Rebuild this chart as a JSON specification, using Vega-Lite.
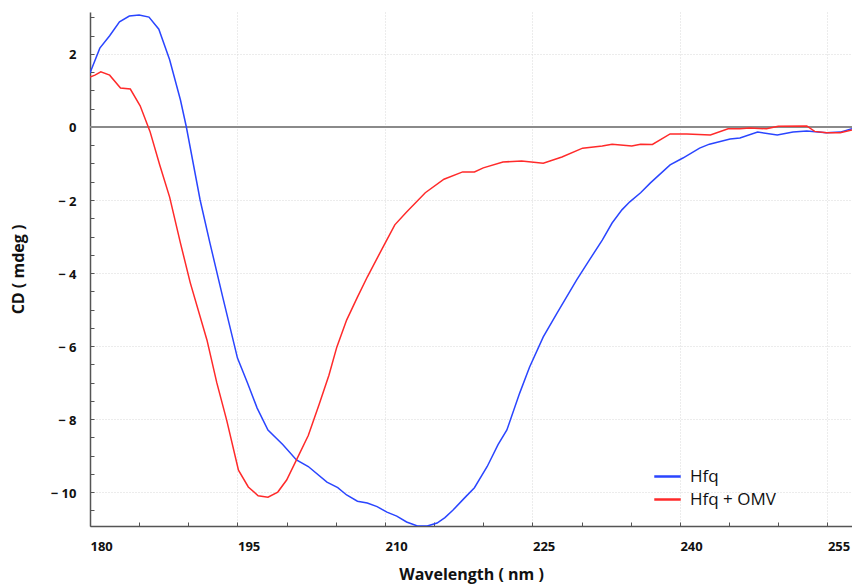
{
  "$schema": "https://vega.github.io/schema/vega-lite/v6.json",
  "width": 762,
  "height": 514,
  "autosize": {"type": "none"},
  "padding": {"left": 90, "top": 12, "right": 0, "bottom": 58},
  "background": "white",
  "config": {
    "view": {"stroke": null},
    "font": "Open Sans",
    "axis": {
      "labelFont": "Open Sans", "labelFontWeight": "bold", "labelFontSize": 13, "labelColor": "#111",
      "titleFont": "Open Sans", "titleFontWeight": "bold", "titleFontSize": 16, "titleColor": "#111",
      "domainColor": "#555", "domainWidth": 1.5, "tickColor": "#555", "tickWidth": 1,
      "gridColor": "#d8d8d8", "gridDash": [1, 2], "gridWidth": 1, "labelOverlap": false
    }
  },
  "data": {"values": [
    {"w":180,"cd":1.48,"s":"Hfq"},{"w":181,"cd":2.16,"s":"Hfq"},{"w":182,"cd":2.5,"s":"Hfq"},{"w":183,"cd":2.88,"s":"Hfq"},{"w":184,"cd":3.04,"s":"Hfq"},{"w":185,"cd":3.07,"s":"Hfq"},{"w":186,"cd":3.01,"s":"Hfq"},{"w":187,"cd":2.68,"s":"Hfq"},{"w":188.1,"cd":1.84,"s":"Hfq"},{"w":189.2,"cd":0.74,"s":"Hfq"},{"w":189.8,"cd":0.0,"s":"Hfq"},{"w":191.2,"cd":-2.0,"s":"Hfq"},{"w":192.2,"cd":-3.18,"s":"Hfq"},{"w":193.5,"cd":-4.66,"s":"Hfq"},{"w":195,"cd":-6.33,"s":"Hfq"},{"w":196,"cd":-7.0,"s":"Hfq"},{"w":197,"cd":-7.7,"s":"Hfq"},{"w":198.1,"cd":-8.3,"s":"Hfq"},{"w":199.6,"cd":-8.7,"s":"Hfq"},{"w":201,"cd":-9.12,"s":"Hfq"},{"w":202.2,"cd":-9.3,"s":"Hfq"},{"w":204.1,"cd":-9.73,"s":"Hfq"},{"w":205.2,"cd":-9.88,"s":"Hfq"},{"w":206.1,"cd":-10.08,"s":"Hfq"},{"w":207.2,"cd":-10.25,"s":"Hfq"},{"w":208.2,"cd":-10.3,"s":"Hfq"},{"w":209.2,"cd":-10.4,"s":"Hfq"},{"w":210.2,"cd":-10.55,"s":"Hfq"},{"w":211.2,"cd":-10.66,"s":"Hfq"},{"w":212.2,"cd":-10.82,"s":"Hfq"},{"w":213.3,"cd":-10.93,"s":"Hfq"},{"w":214.3,"cd":-10.93,"s":"Hfq"},{"w":215.3,"cd":-10.85,"s":"Hfq"},{"w":216.1,"cd":-10.7,"s":"Hfq"},{"w":216.9,"cd":-10.5,"s":"Hfq"},{"w":218.1,"cd":-10.16,"s":"Hfq"},{"w":219.1,"cd":-9.88,"s":"Hfq"},{"w":220.4,"cd":-9.3,"s":"Hfq"},{"w":221.5,"cd":-8.7,"s":"Hfq"},{"w":222.4,"cd":-8.3,"s":"Hfq"},{"w":223.7,"cd":-7.29,"s":"Hfq"},{"w":224.7,"cd":-6.58,"s":"Hfq"},{"w":226.1,"cd":-5.75,"s":"Hfq"},{"w":227.5,"cd":-5.1,"s":"Hfq"},{"w":229.5,"cd":-4.19,"s":"Hfq"},{"w":230.8,"cd":-3.64,"s":"Hfq"},{"w":232.1,"cd":-3.1,"s":"Hfq"},{"w":233.1,"cd":-2.63,"s":"Hfq"},{"w":234.1,"cd":-2.27,"s":"Hfq"},{"w":234.9,"cd":-2.05,"s":"Hfq"},{"w":236,"cd":-1.8,"s":"Hfq"},{"w":237,"cd":-1.53,"s":"Hfq"},{"w":239,"cd":-1.04,"s":"Hfq"},{"w":240.3,"cd":-0.85,"s":"Hfq"},{"w":242,"cd":-0.58,"s":"Hfq"},{"w":243,"cd":-0.47,"s":"Hfq"},{"w":245.1,"cd":-0.33,"s":"Hfq"},{"w":246.1,"cd":-0.3,"s":"Hfq"},{"w":247.9,"cd":-0.14,"s":"Hfq"},{"w":249.9,"cd":-0.22,"s":"Hfq"},{"w":251.5,"cd":-0.14,"s":"Hfq"},{"w":252.9,"cd":-0.11,"s":"Hfq"},{"w":254.9,"cd":-0.16,"s":"Hfq"},{"w":256.3,"cd":-0.14,"s":"Hfq"},{"w":257.5,"cd":-0.05,"s":"Hfq"},
    {"w":180,"cd":1.37,"s":"Hfq + OMV"},{"w":180.5,"cd":1.42,"s":"Hfq + OMV"},{"w":181.1,"cd":1.51,"s":"Hfq + OMV"},{"w":182,"cd":1.42,"s":"Hfq + OMV"},{"w":183.1,"cd":1.07,"s":"Hfq + OMV"},{"w":184.1,"cd":1.04,"s":"Hfq + OMV"},{"w":185.1,"cd":0.58,"s":"Hfq + OMV"},{"w":186.1,"cd":-0.12,"s":"Hfq + OMV"},{"w":187.1,"cd":-1.05,"s":"Hfq + OMV"},{"w":188.1,"cd":-1.92,"s":"Hfq + OMV"},{"w":189.2,"cd":-3.18,"s":"Hfq + OMV"},{"w":190.2,"cd":-4.27,"s":"Hfq + OMV"},{"w":191.9,"cd":-5.84,"s":"Hfq + OMV"},{"w":192.9,"cd":-7.01,"s":"Hfq + OMV"},{"w":193.9,"cd":-8.03,"s":"Hfq + OMV"},{"w":195.1,"cd":-9.4,"s":"Hfq + OMV"},{"w":196.1,"cd":-9.86,"s":"Hfq + OMV"},{"w":197.1,"cd":-10.1,"s":"Hfq + OMV"},{"w":198.1,"cd":-10.14,"s":"Hfq + OMV"},{"w":199.1,"cd":-10.0,"s":"Hfq + OMV"},{"w":200,"cd":-9.67,"s":"Hfq + OMV"},{"w":201,"cd":-9.12,"s":"Hfq + OMV"},{"w":202.2,"cd":-8.45,"s":"Hfq + OMV"},{"w":203.3,"cd":-7.6,"s":"Hfq + OMV"},{"w":204.3,"cd":-6.8,"s":"Hfq + OMV"},{"w":205.1,"cd":-6.03,"s":"Hfq + OMV"},{"w":206.1,"cd":-5.29,"s":"Hfq + OMV"},{"w":207.2,"cd":-4.66,"s":"Hfq + OMV"},{"w":208.2,"cd":-4.11,"s":"Hfq + OMV"},{"w":209.8,"cd":-3.29,"s":"Hfq + OMV"},{"w":211,"cd":-2.68,"s":"Hfq + OMV"},{"w":212.2,"cd":-2.33,"s":"Hfq + OMV"},{"w":214.1,"cd":-1.8,"s":"Hfq + OMV"},{"w":216,"cd":-1.43,"s":"Hfq + OMV"},{"w":217.9,"cd":-1.23,"s":"Hfq + OMV"},{"w":219.1,"cd":-1.23,"s":"Hfq + OMV"},{"w":220,"cd":-1.12,"s":"Hfq + OMV"},{"w":222,"cd":-0.96,"s":"Hfq + OMV"},{"w":223.9,"cd":-0.93,"s":"Hfq + OMV"},{"w":226.1,"cd":-0.99,"s":"Hfq + OMV"},{"w":228,"cd":-0.82,"s":"Hfq + OMV"},{"w":230.1,"cd":-0.58,"s":"Hfq + OMV"},{"w":232.1,"cd":-0.52,"s":"Hfq + OMV"},{"w":233.1,"cd":-0.47,"s":"Hfq + OMV"},{"w":235.1,"cd":-0.52,"s":"Hfq + OMV"},{"w":236,"cd":-0.47,"s":"Hfq + OMV"},{"w":237.2,"cd":-0.48,"s":"Hfq + OMV"},{"w":239,"cd":-0.19,"s":"Hfq + OMV"},{"w":240.7,"cd":-0.19,"s":"Hfq + OMV"},{"w":243.1,"cd":-0.22,"s":"Hfq + OMV"},{"w":244.9,"cd":-0.05,"s":"Hfq + OMV"},{"w":246.1,"cd":-0.05,"s":"Hfq + OMV"},{"w":247.1,"cd":-0.03,"s":"Hfq + OMV"},{"w":248.8,"cd":-0.05,"s":"Hfq + OMV"},{"w":250,"cd":0.02,"s":"Hfq + OMV"},{"w":252.9,"cd":0.03,"s":"Hfq + OMV"},{"w":253.7,"cd":-0.12,"s":"Hfq + OMV"},{"w":254.9,"cd":-0.16,"s":"Hfq + OMV"},{"w":256.3,"cd":-0.16,"s":"Hfq + OMV"},{"w":257.5,"cd":-0.08,"s":"Hfq + OMV"}
  ]},
  "layer": [
    {
      "mark": {"type": "rule", "color": "#8a8a8a", "strokeWidth": 1.6},
      "encoding": {"y": {"datum": 0, "type": "quantitative"}}
    },
    {
      "mark": {"type": "line", "strokeWidth": 1.5, "clip": true},
      "encoding": {
        "x": {
          "field": "w", "type": "quantitative",
          "scale": {"domain": [180, 257.5], "nice": false, "zero": false},
          "axis": {
            "title": "Wavelength ( nm )",
            "values": [180,185,190,195,200,205,210,215,220,225,230,235,240,245,250,255],
            "tickCount": 100,
            "labelExpr": "datum.value % 15 == 0 ? datum.label : ''",
            "labelAlign": "left", "labelPadding": 18, "tickSize": -4,
            "titlePadding": 13,
            "grid": true,
            "gridOpacity": {"condition": {"test": "datum.value % 15 == 0 && datum.value > 180", "value": 1}, "value": 0}
          }
        },
        "y": {
          "field": "cd", "type": "quantitative",
          "scale": {"domain": [-10.93, 3.15], "nice": false, "zero": false},
          "axis": {
            "title": "CD ( mdeg )",
            "values": [-10.5,-10,-9.5,-9,-8.5,-8,-7.5,-7,-6.5,-6,-5.5,-5,-4.5,-4,-3.5,-3,-2.5,-2,-1.5,-1,-0.5,0,0.5,1,1.5,2,2.5,3],
            "tickCount": 100,
            "labelExpr": "datum.value % 2 == 0 ? (datum.value < 0 ? '\u2212 ' + abs(datum.value) : datum.value + '') : ''",
            "labelPadding": 18, "tickSize": -4, "labelBaseline": "top", "labelOffset": -5,
            "titlePadding": 24,
            "grid": true,
            "gridOpacity": {"condition": {"test": "datum.value % 2 == 0 && datum.value != 0", "value": 1}, "value": 0}
          }
        },
        "color": {
          "field": "s", "type": "nominal",
          "scale": {"domain": ["Hfq", "Hfq + OMV"], "range": ["#2a45ff", "#ff2a2a"]},
          "legend": {
            "title": null, "orient": "none", "legendX": 563, "legendY": 450,
            "symbolType": "stroke", "symbolSize": 700, "symbolStrokeWidth": 2.5,
            "labelFont": "Open Sans", "labelFontSize": 17, "labelColor": "#111", "labelOffset": 8,
            "rowPadding": -6
          }
        }
      }
    }
  ]
}
